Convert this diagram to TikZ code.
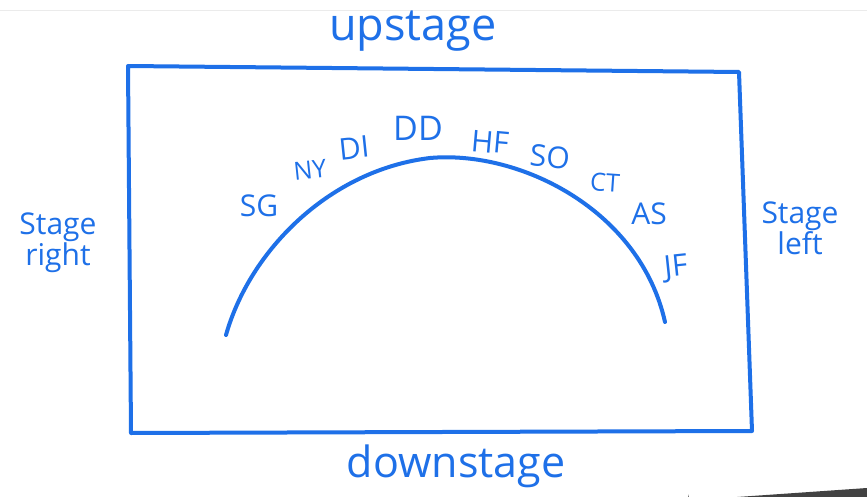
\documentclass[tikz,border=0pt]{standalone}
\usepackage{fontspec}
\setmainfont{Open Sans}
\definecolor{pen}{RGB}{30,112,232}
\begin{document}
\begin{tikzpicture}[x=1pt,y=-1pt,
  ink/.style={draw=pen,line width=4pt,line cap=round,line join=round},
  lab/.style={text=pen,font=\fontsize{30}{30}\selectfont,inner sep=0pt},
  side/.style={text=pen,font=\fontsize{30}{27}\selectfont,inner sep=0pt,align=center}]
\useasboundingbox (0,0) rectangle (867,497);
\fill[white] (0,0) rectangle (867,497);
\draw[black!8,line width=1.5pt] (0,10.5) -- (867,10.5);
\fill[black!74] (688,497) -- (688,494) arc[start angle=180,end angle=90,radius=6] -- (867,488) -- (867,497) -- cycle;
% stage
\coordinate (tl) at (128,66);
\coordinate (tr) at (739,72);
\coordinate (br) at (752,431);
\coordinate (bl) at (131,433);
\draw[ink] (tl) -- (tr) -- (br) -- (bl) -- cycle;
% arc
\coordinate (a0) at (226,335);
\coordinate (a1) at (665,322);
\draw[ink] (a0) .. controls (250,250) and (330,170) .. (430,158)
  .. controls (520,150) and (640,210) .. (a1);
% labels
\node[lab,font=\fontsize{45}{45}\selectfont] (up) at (413,31) {upstage};
\node[lab,font=\fontsize{43}{43}\selectfont] (down) at (456,466) {downstage};
\node[side] (sr) at (58,243) {Stage\\right};
\node[side] (sl) at (800,228) {Stage\\left};
\node[lab] (sg) at (259,206) {SG};
\node[lab,rotate=6,font=\fontsize{25}{25}\selectfont] (ny) at (310,170) {NY};
\node[lab,rotate=6] (di) at (354,148) {DI};
\node[lab,font=\fontsize{34}{34}\selectfont] (dd) at (418,128) {DD};
\node[lab,rotate=-5] (hf) at (490,142) {HF};
\node[lab,rotate=-5] (so) at (550,157) {SO};
\node[lab,rotate=-4,font=\fontsize{25}{25}\selectfont] (ct) at (605,183) {CT};
\node[lab] (as) at (649,214) {AS};
\node[lab,rotate=6] (jf) at (676,268) {JF};
\end{tikzpicture}
\end{document}
